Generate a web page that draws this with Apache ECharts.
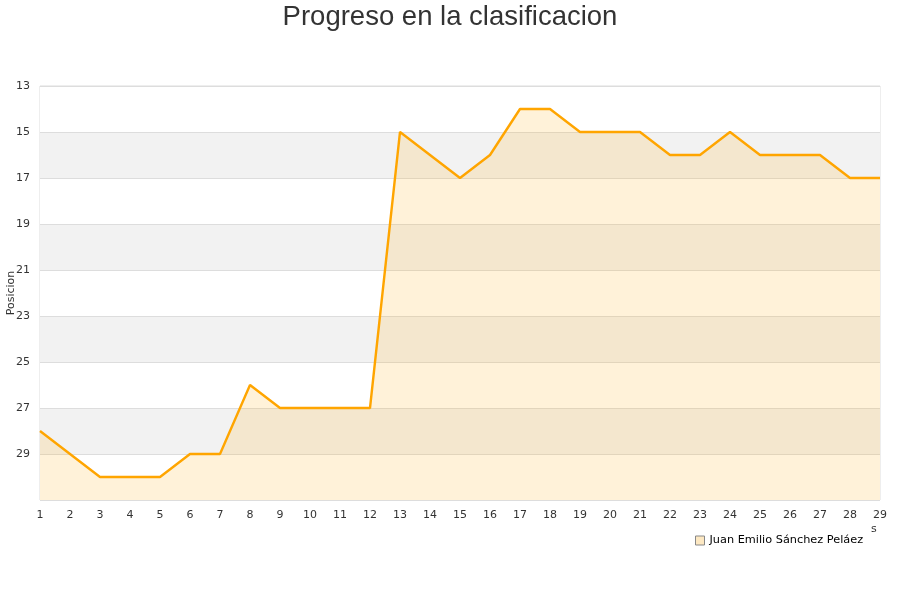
<!DOCTYPE html>
<html><head><meta charset="utf-8">
<script src="https://cdn.jsdelivr.net/npm/echarts@6/dist/echarts.min.js"></script>
<style>html,body{margin:0;padding:0;background:#fff}#c{width:900px;height:600px}</style>
</head><body><div id="c"></div>
<script>
const jornadas = [1,2,3,4,5,6,7,8,9,10,11,12,13,14,15,16,17,18,19,20,21,22,23,24,25,26,27,28,29];
const posiciones = [28,29,30,30,30,29,29,26,27,27,27,27,15,16,17,16,14,14,15,15,15,16,16,15,16,16,16,17,17];
const serieNombre = 'Juan Emilio Sánchez Peláez';
const titulo = 'Progreso en la clasificacion';
const ejeY = 'Posicion';

const chart = echarts.init(document.getElementById('c'), null, {renderer:'canvas'});
chart.setOption({
  animation:false,
  title:{text:titulo,left:'center',top:-2,textStyle:{fontFamily:'Liberation Sans',fontSize:27.5,fontWeight:'normal',color:'#333'}},
  grid:{left:40,right:20,top:86,bottom:100,outerBoundsMode:'none',containLabel:false,show:true,borderColor:'#ddd',borderWidth:1,backgroundColor:'transparent'},
  legend:{data:[{name:serieNombre,icon:'rect',itemStyle:{color:'#fde8c2',borderColor:'#888',borderWidth:1}}],left:690,top:530,itemWidth:9,itemHeight:9,
    textStyle:{fontFamily:'DejaVu Sans',fontSize:11.3,color:'#000'}},
  xAxis:{type:'category',data:jornadas,boundaryGap:false,
    axisLine:{show:false},axisTick:{show:false},splitLine:{show:false},
    axisLabel:{fontFamily:'DejaVu Sans',fontSize:11,color:'#333',margin:10,interval:0}},
  yAxis:{type:'value',inverse:true,min:13,max:31,interval:2,name:ejeY,nameLocation:'middle',nameGap:23,nameRotate:90,nameMoveOverlap:false,
    nameTextStyle:{fontFamily:'DejaVu Sans',fontSize:11,color:'#333'},
    axisLine:{show:false},axisTick:{show:false},
    axisLabel:{fontFamily:'DejaVu Sans',fontSize:11,color:'#333',margin:10,formatter:v=>v===31?'':v},
    splitLine:{show:true,lineStyle:{color:'#ddd'}},
    splitArea:{show:true,areaStyle:{color:['#ffffff','#f2f2f2']}}},
  graphic:[{type:'text',left:871,top:524,style:{text:'s',font:'11px DejaVu Sans',fill:'#333'}}],
  series:[{name:serieNombre,type:'line',data:posiciones,symbol:'none',
    lineStyle:{color:'#FFA500',width:2.4},itemStyle:{color:'#fde8c2'},
    areaStyle:{origin:'end',color:'rgba(255,165,0,0.21)'}}]
});
</script></body></html>
